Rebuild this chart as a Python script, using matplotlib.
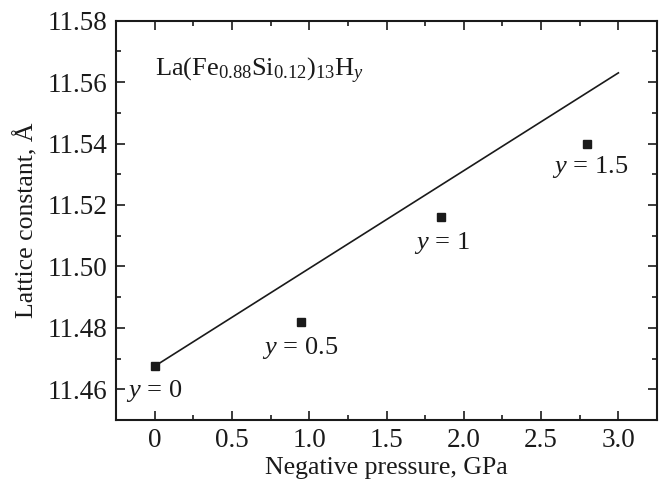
import numpy as np
import matplotlib
matplotlib.use('Agg')
import matplotlib.pyplot as plt
from matplotlib.ticker import MultipleLocator

plt.rcParams['font.family'] = ['Liberation Serif', 'DejaVu Serif']
plt.rcParams['mathtext.fontset'] = 'custom'
plt.rcParams['mathtext.rm'] = 'Liberation Serif'
plt.rcParams['mathtext.it'] = 'Liberation Serif:italic'

# Measured data (negative pressure vs lattice constant)
pressure = [0.0, 0.95, 1.85, 2.80]
lattice = [11.4675, 11.482, 11.516, 11.540]
labels = ['$y$ = 0', '$y$ = 0.5', '$y$ = 1', '$y$ = 1.5']
label_pos_x = [0.0, 0.94, 1.86, 2.82]
label_pos_y = [11.4595, 11.4735, 11.5075, 11.5325]

# Straight line
fit_x = [0.0, 3.0]
fit_y = [11.4675, 11.563]

fig = plt.figure(figsize=(6.59, 4.87), dpi=100)
ax = fig.add_axes([0.176, 0.1376, 0.821, 0.82])

ax.plot(fit_x, fit_y, color='#1a1a1a', linewidth=1.2)
ax.plot(pressure, lattice, linestyle='none', marker='s', markersize=5.5,
        color='#1a1a1a')

for lx, ly, txt in zip(label_pos_x, label_pos_y, labels):
    ax.text(lx, ly, txt.replace(' = ', r'$\,=\,$'), fontsize=19,
            ha='center', va='center', color='#1a1a1a')

ax.text(0.0, 11.5635, r'La(Fe$_{0.88}$Si$_{0.12}$)$_{13}$H$_{y}$',
        fontsize=19, ha='left', va='center', color='#1a1a1a')

ax.set_xlim(-0.25, 3.25)
ax.set_ylim(11.45, 11.58)
ax.xaxis.set_minor_locator(MultipleLocator(0.25))
ax.yaxis.set_minor_locator(MultipleLocator(0.01))
ax.set_xticks([0, 0.5, 1.0, 1.5, 2.0, 2.5, 3.0])
ax.set_xticklabels(['0', '0.5', '1.0', '1.5', '2.0', '2.5', '3.0'])
ax.set_yticks(np.arange(11.46, 11.581, 0.02))
ax.set_yticklabels(['11.46', '11.48', '11.50', '11.52', '11.54', '11.56', '11.58'])

ax.tick_params(which='both', direction='in', top=True, right=True,
               labelsize=19.5, colors='#1a1a1a', width=1.2)
ax.tick_params(which='major', length=6.5, pad=6)
ax.tick_params(which='minor', length=3.3)
for sp in ax.spines.values():
    sp.set_linewidth(1.5)
    sp.set_color('#1a1a1a')

ax.set_xlabel('Negative pressure, GPa', fontsize=18.5, color='#1a1a1a', labelpad=3)
ax.set_ylabel('Lattice constant, Å', fontsize=18.5, color='#1a1a1a', labelpad=7)

fig.savefig('out.png', dpi=100)
